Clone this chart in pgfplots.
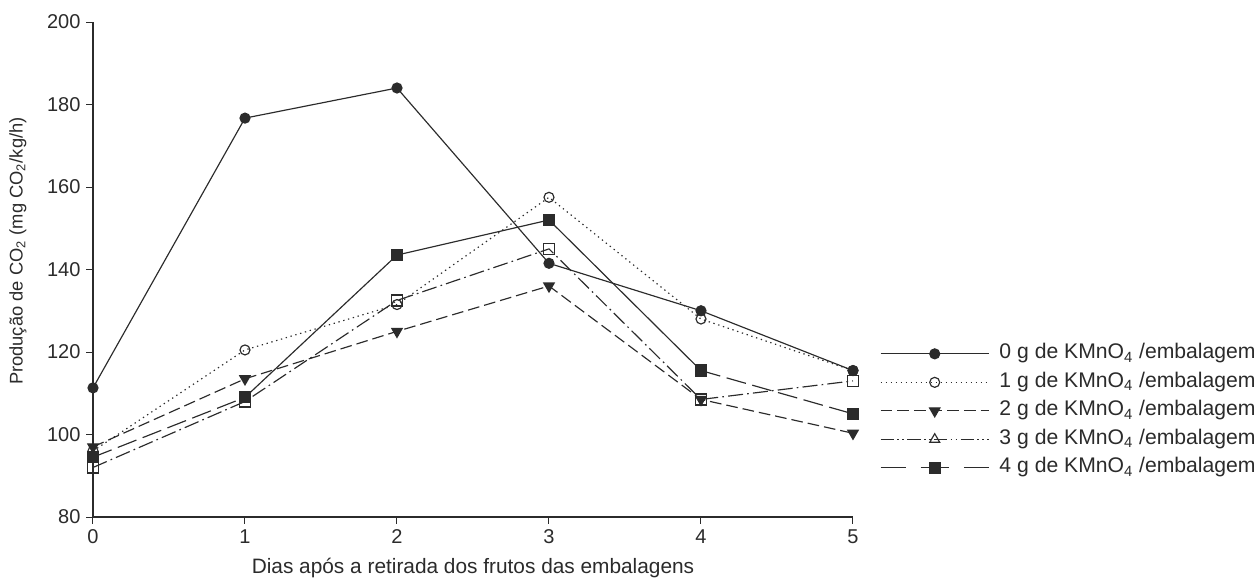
\documentclass[border=0pt]{standalone}
\usepackage{pgfplots}
\pgfplotsset{compat=1.18}
\usepackage{fontspec}
\setmainfont{Liberation Sans}
\definecolor{linec}{HTML}{2B2B2B}
\begin{document}
\begin{tikzpicture}
\begin{axis}[
  scale only axis, width=456pt, height=297pt,
  xmin=0, xmax=5, ymin=80, ymax=200,
  axis x line*=bottom, axis y line*=left,
  axis line style={-, line width=0.7pt, color=linec},
  xtick={0,1,2,3,4,5}, ytick={80,100,...,200},
  tick align=outside, major tick length=4pt,
  tick style={linec, line width=0.6pt},
  ticklabel style={font=\fontsize{12}{14}\selectfont, text=linec},
  /pgf/number format/assume math mode=true,
  xlabel={Dias após a retirada dos frutos das embalagens},
  ylabel={Produção de CO\textsubscript{2} (mg CO\textsubscript{2}/kg/h)},
  xlabel style={font=\fontsize{12.5}{15}\selectfont, text=linec, at={(axis description cs:0.5,0)}, anchor=center, yshift=-30.5pt},
  ylabel style={font=\fontsize{11}{13}\selectfont, text=linec, at={(axis description cs:-0.0987,0.537)}, anchor=center},
  clip=false,
  every axis plot/.append style={line width=0.7pt, color=linec},
  legend style={at={(axis description cs:1.0355,0.3515)}, anchor=north west, draw=none, fill=none,
    inner sep=0pt, outer sep=0pt, row sep=4.1pt, column sep=6pt,
    font=\fontsize{12.7}{15}\selectfont, text=linec,
    nodes={inner sep=0pt, text height=9.5pt, text depth=3.5pt}},
  legend cell align=left,
  legend image code/.code={\draw[mark repeat=2,mark phase=2,#1] plot coordinates {(0pt,0pt)(32.5pt,0pt)(65pt,0pt)};},
]
\addplot[solid, mark=*, mark size=3pt, mark options={solid, fill=linec}]
  coordinates {(0,111.3) (1,176.7) (2,184) (3,141.5) (4,130) (5,115.5)};
\addlegendentry{0 g de KMnO\textsubscript{4} /embalagem}
\addplot[dash pattern=on 0.8pt off 2.2pt, mark=o, mark size=3pt, mark options={solid, fill=white}]
  coordinates {(0,96) (1,120.5) (2,131.5) (3,157.5) (4,128) (5,115.5)};
\addlegendentry{1 g de KMnO\textsubscript{4} /embalagem}
\addplot[dash pattern=on 7pt off 3pt, mark=triangle*, mark size=3.6pt, mark options={solid, rotate=180, fill=linec}]
  coordinates {(0,97) (1,113.5) (2,125) (3,136) (4,108.5) (5,100.3)};
\addlegendentry{2 g de KMnO\textsubscript{4} /embalagem}
\addlegendimage{line width=0.7pt, color=linec, dash pattern=on 8pt off 2pt on 1pt off 2pt on 1pt off 2pt, mark=triangle, mark size=3.4pt, mark options={solid, fill=white}}
\addlegendentry{3 g de KMnO\textsubscript{4} /embalagem}
\addplot[forget plot, dash pattern=on 9pt off 2.5pt on 1pt off 2.5pt, mark=square, mark size=3.3pt, mark options={solid, fill=white}]
  coordinates {(0,92) (1,108) (2,132.5) (3,145) (4,108.5) (5,113)};
% 4 g series: dashed ends, solid middle (as in the original)
\addplot[forget plot, dash pattern=on 12pt off 4pt]
  coordinates {(0,94.5) (1,109)};
\addplot[forget plot, solid]
  coordinates {(1,109) (2,143.5) (3,152) (4,115.5)};
\addplot[forget plot, dash pattern=on 12pt off 4pt]
  coordinates {(4,115.5) (5,105)};
\addplot[forget plot, only marks, mark=square*, mark size=3.3pt, mark options={solid, fill=linec}]
  coordinates {(0,94.5) (1,109) (2,143.5) (3,152) (4,115.5) (5,105)};
\addlegendimage{line width=0.7pt, color=linec, dash pattern=on 15pt off 9pt on 17pt off 9pt on 15pt off 9pt, mark=square*, mark size=3.3pt, mark options={solid, fill=linec}}
\addlegendentry{4 g de KMnO\textsubscript{4} /embalagem}
\end{axis}
\pgfresetboundingbox
\path (-55.8pt,-36pt) rectangle (699.6pt,310.2pt);
\end{tikzpicture}
\end{document}
